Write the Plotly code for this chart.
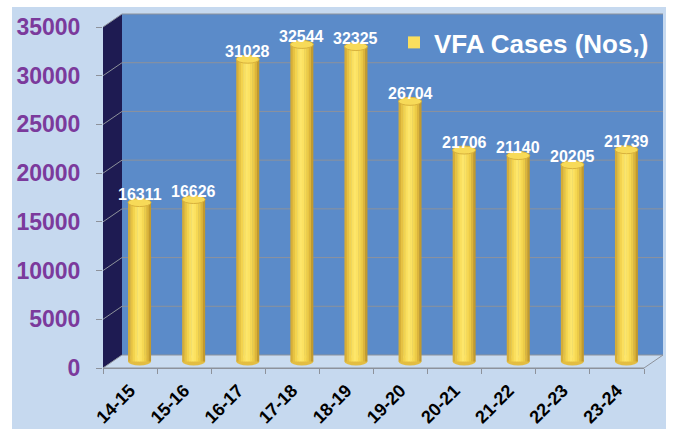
import plotly.graph_objects as go

# ---------------- data ----------------
years = ["14-15", "15-16", "16-17", "17-18", "18-19", "19-20", "20-21", "21-22", "22-23", "23-24"]
cases = [16311, 16626, 31028, 32544, 32325, 26704, 21706, 21140, 20205, 21739]
y_ticks = [0, 5000, 10000, 15000, 20000, 25000, 30000, 35000]
series_name = "VFA Cases (Nos,)"

# ---------------- geometry ----------------
W, H = 678, 429
L, R, T, B = 103, 34, 27, 61
PW, PH = W - L - R, H - T - B
YMAX = 35000
DX, DY = 19, 13                      # depth of the 3-D box in px
n = len(years)
cat_px = PW / n

def px(x):   # pixel -> paper x
    return (x - L) / PW

def py(y):   # pixel -> paper y
    return (H - B - y) / PH

def ypix(v):  # value -> front pixel
    return (H - B) - v / YMAX * PH

# bars sit at mid depth
sx = (DX / 2) / cat_px
sy = (DY / 2) / PH * YMAX

FONT = "Liberation Sans, Arial, sans-serif"
PANEL = "#c6d9ef"
WALL = "#5b8bc9"
SIDE = "#1e1b52"
GRID = "#8d929b"

shapes = []
# white border strips of the picture
shapes.append(dict(type="rect", xref="paper", yref="paper", x0=px(0), x1=px(12), y0=py(H), y1=py(0),
                   fillcolor="white", line_width=0, layer="below"))
shapes.append(dict(type="rect", xref="paper", yref="paper", x0=px(0), x1=px(W), y0=py(7), y1=py(0),
                   fillcolor="white", line_width=0, layer="below"))
shapes.append(dict(type="rect", xref="paper", yref="paper", x0=px(666), x1=px(W), y0=py(H), y1=py(0),
                   fillcolor="white", line_width=0, layer="below"))

front_l, front_r = L, W - R
back_l, back_r = L + DX, W - R + DX
# back wall
shapes.append(dict(type="rect", xref="paper", yref="paper",
                   x0=px(back_l), x1=px(back_r), y0=py(ypix(0) - DY), y1=py(ypix(YMAX) - DY),
                   fillcolor=WALL, line_width=0, layer="below"))
# left wall
path = "M {} {} L {} {} L {} {} L {} {} Z".format(
    px(front_l), py(ypix(YMAX)), px(back_l), py(ypix(YMAX) - DY),
    px(back_l), py(ypix(0) - DY), px(front_l), py(ypix(0)))
shapes.append(dict(type="path", xref="paper", yref="paper", path=path,
                   fillcolor=SIDE, line_width=0, layer="below"))
# floor
path = "M {} {} L {} {} L {} {} L {} {} Z".format(
    px(front_l), py(ypix(0)), px(front_r), py(ypix(0)),
    px(back_r), py(ypix(0) - DY), px(back_l), py(ypix(0) - DY))
shapes.append(dict(type="path", xref="paper", yref="paper", path=path,
                   fillcolor="#cadcf0", line=dict(color=GRID, width=1), layer="below"))
# gridlines on back & left wall
for v in y_ticks[1:]:
    yf = ypix(v)
    yb = yf - DY
    shapes.append(dict(type="line", xref="paper", yref="paper",
                       x0=px(back_l), x1=px(back_r), y0=py(yb), y1=py(yb),
                       line=dict(color=GRID, width=1), layer="below"))
    shapes.append(dict(type="line", xref="paper", yref="paper",
                       x0=px(front_l), x1=px(back_l), y0=py(yf), y1=py(yb),
                       line=dict(color=GRID, width=1), layer="below"))

fig = go.Figure()
# invisible trace that anchors the front (labelled) axes
fig.add_trace(go.Scatter(x=years, y=cases, mode="markers", marker=dict(opacity=0),
                         showlegend=False, hoverinfo="skip"))

# ---------------- cylinders ----------------
bw = 23 / cat_px
slice_cols = ["#d5ad38", "#e6c243", "#f3d34e", "#fadf5e", "#fde66b",
              "#fce262", "#f6d853", "#eccb47", "#dcb53b", "#c29a2e"]
ns = len(slice_cols)
for k, c in enumerate(slice_cols):
    fig.add_trace(go.Bar(
        x=years, y=cases, xaxis="x2", yaxis="y2",
        offset=-bw / 2 + k * bw / ns, width=bw / ns * 1.2 if k < ns - 1 else bw / ns,
        marker=dict(color=c, line=dict(width=0)),
        name=series_name, showlegend=(k == 3), hoverinfo="skip" if k != 3 else None,
    ))

ell_h = 8 / PH * YMAX
annotations = []
for i, v in enumerate(cases):
    shapes.append(dict(type="circle", xref="x2", yref="y2",
                       x0=i - bw / 2, x1=i + bw / 2, y0=-ell_h / 2, y1=ell_h / 2,
                       fillcolor="#e3bd42", line_width=0, layer="below"))
    shapes.append(dict(type="circle", xref="x2", yref="y2",
                       x0=i - bw / 2, x1=i + bw / 2, y0=v - ell_h / 2, y1=v + ell_h / 2,
                       fillcolor="#f7da58", line=dict(color="#d8b13c", width=1), layer="above"))
    annotations.append(dict(x=years[i], y=v, xref="x2", yref="y2", text=str(v),
                            showarrow=False, yanchor="middle", yshift=8,
                            font=dict(family=FONT, size=16, color="white", weight="bold")))

fig.update_layout(
    width=W, height=H,
    margin=dict(l=L, r=R, t=T, b=B, pad=0, autoexpand=False),
    paper_bgcolor=PANEL, plot_bgcolor="rgba(0,0,0,0)",
    barmode="overlay",
    font=dict(family=FONT),
    shapes=shapes,
    annotations=annotations,
    showlegend=True,
    legend=dict(x=px(394), y=py(19), xanchor="left", yanchor="top",
                bgcolor="rgba(0,0,0,0)", borderwidth=0,
                font=dict(family=FONT, size=26, color="white", weight="bold")),
    xaxis=dict(type="category", categoryorder="array", categoryarray=years,
               range=[-0.5, n - 0.5], tickson="boundaries", ticks="outside", ticklen=5,
               tickcolor=GRID, showline=True, linecolor=GRID, linewidth=1,
               showgrid=False, zeroline=False, tickangle=-45, ticklabelstandoff=4,
               automargin=False, ticklabeloverflow="allow",
               tickfont=dict(family=FONT, size=18, color="black", weight="bold")),
    yaxis=dict(range=[0, YMAX], tickvals=y_ticks, ticktext=[str(t) for t in y_ticks],
               ticks="outside", ticklen=6, automargin=False,
               tickcolor=GRID, showline=False, showgrid=False, zeroline=False,
               ticklabelstandoff=11,
               tickfont=dict(family=FONT, size=23, color="#7b3a9c", weight="bold")),
    xaxis2=dict(type="category", categoryorder="array", categoryarray=years,
                range=[-0.5 - sx, n - 0.5 - sx], overlaying="x", anchor="y2", visible=False),
    yaxis2=dict(range=[-sy, YMAX - sy], overlaying="y", anchor="x2", visible=False),
)

fig.write_html("out.html", config={"displayModeBar": False},
               post_script="document.body.style.margin='0';")
